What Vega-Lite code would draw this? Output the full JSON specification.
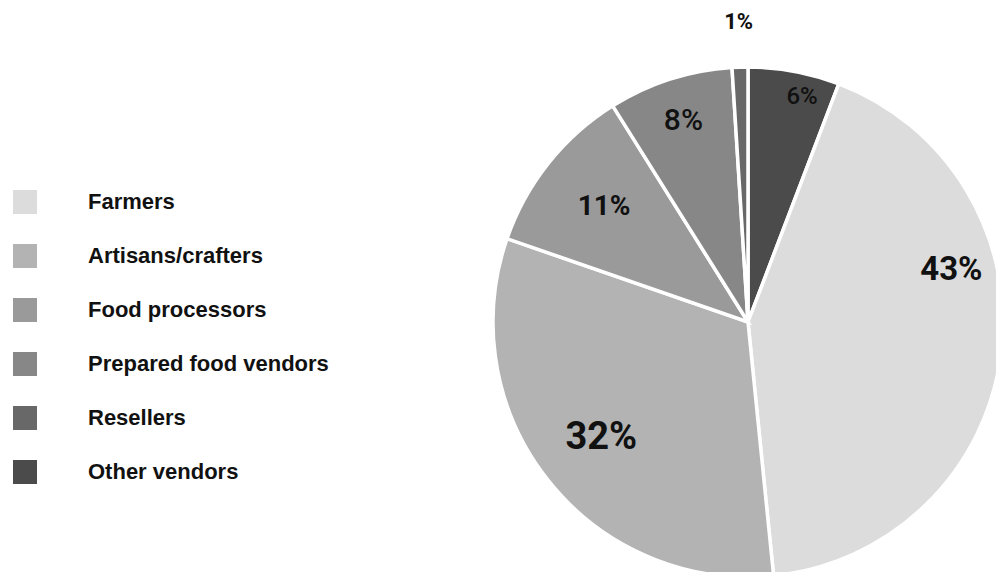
{
  "$schema": "https://vega.github.io/schema/vega-lite/v6.json",
  "width": 496,
  "height": 500,
  "autosize": {"type": "none"},
  "padding": {"left": 500, "top": 72, "right": 0, "bottom": 0},
  "background": "white",
  "config": {"view": {"stroke": null}},
  "data": {
    "values": [
      {"category": "Other vendors", "share": 5.8, "label": "6%", "idx": 1},
      {"category": "Farmers", "share": 42.6, "label": "43%", "idx": 2},
      {"category": "Artisans/crafters", "share": 31.9, "label": "32%", "idx": 3},
      {"category": "Food processors", "share": 10.8, "label": "11%", "idx": 4},
      {"category": "Prepared food vendors", "share": 7.9, "label": "8%", "idx": 5},
      {"category": "Resellers", "share": 1.0, "label": "1%", "idx": 6}
    ]
  },
  "encoding": {
    "theta": {"field": "share", "type": "quantitative", "stack": true},
    "order": {"field": "idx", "type": "quantitative"},
    "detail": {"field": "category", "type": "nominal"}
  },
  "layer": [
    {
      "mark": {"type": "arc", "radius": 255, "stroke": "white", "strokeWidth": 3.5},
      "encoding": {
        "color": {
          "field": "category",
          "type": "nominal",
          "scale": {
            "domain": ["Farmers", "Artisans/crafters", "Food processors", "Prepared food vendors", "Resellers", "Other vendors"],
            "range": ["#dcdcdc", "#b3b3b3", "#9a9a9a", "#878787", "#686868", "#4b4b4b"]
          },
          "legend": {
            "orient": "none",
            "legendX": -487,
            "legendY": 118,
            "title": null,
            "symbolType": "square",
            "symbolSize": 576,
            "symbolStrokeWidth": 0,
            "symbolOpacity": 1,
            "labelFont": "Liberation Sans",
            "labelFontSize": 22,
            "labelFontWeight": "bold",
            "labelColor": "#111111",
            "labelOffset": 51,
            "labelLimit": 400,
            "rowPadding": 30,
            "padding": 0
          }
        }
      }
    },
    {
      "mark": {"type": "text", "radius": 210, "thetaOffset": -0.384, "fontSize": 33, "font": "Roboto", "fontWeight": "bold", "color": "#111111", "align": "center", "baseline": "middle"},
      "encoding": {"text": {"condition": {"test": "datum.category === 'Farmers'", "field": "label"}, "value": ""}}
    },
    {
      "mark": {"type": "text", "radius": 187, "fontSize": 38, "font": "Roboto", "fontWeight": "bold", "color": "#111111", "align": "center", "baseline": "middle"},
      "encoding": {"text": {"condition": {"test": "datum.category === 'Artisans/crafters'", "field": "label"}, "value": ""}}
    },
    {
      "mark": {"type": "text", "radius": 184, "fontSize": 28, "font": "Roboto", "fontWeight": "bold", "color": "#111111", "align": "center", "baseline": "middle"},
      "encoding": {"text": {"condition": {"test": "datum.category === 'Food processors'", "field": "label"}, "value": ""}}
    },
    {
      "mark": {"type": "text", "radius": 211, "fontSize": 30, "font": "Roboto", "fontWeight": 500, "color": "#111111", "align": "center", "baseline": "middle"},
      "encoding": {"text": {"condition": {"test": "datum.category === 'Prepared food vendors'", "field": "label"}, "value": ""}}
    },
    {
      "mark": {"type": "text", "radius": 300, "fontSize": 22, "font": "Roboto", "fontWeight": "bold", "color": "#111111", "align": "center", "baseline": "middle"},
      "encoding": {"text": {"condition": {"test": "datum.category === 'Resellers'", "field": "label"}, "value": ""}}
    },
    {
      "mark": {"type": "text", "radius": 231, "thetaOffset": 0.054, "fontSize": 24, "font": "Roboto", "fontWeight": 500, "color": "#111111", "align": "center", "baseline": "middle"},
      "encoding": {"text": {"condition": {"test": "datum.category === 'Other vendors'", "field": "label"}, "value": ""}}
    }
  ]
}
